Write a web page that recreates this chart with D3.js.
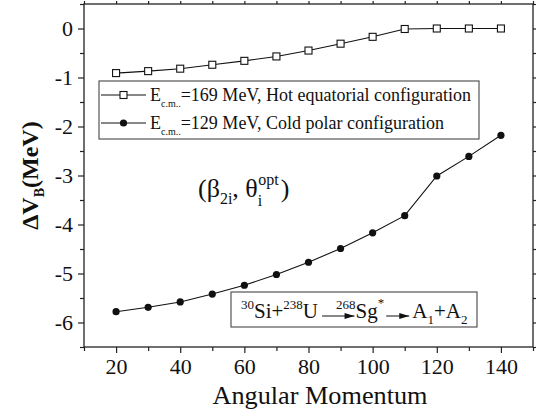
<!DOCTYPE html>
<html>
<head>
<meta charset="utf-8">
<script src="https://cdn.jsdelivr.net/npm/d3@7"></script>
</head>
<body style="margin:0">
<svg id="chart" width="540" height="415" font-family="Liberation Serif"></svg>
<script>
// Angular momentum values (x)
const angularMomentum = [20, 30, 40, 50, 60, 70, 80, 90, 100, 110, 120, 130, 140];
// Barrier modification ΔV_B (MeV), hot equatorial configuration, E_cm = 169 MeV
const hotEquatorial = [-0.91, -0.87, -0.82, -0.74, -0.66, -0.57, -0.45, -0.31, -0.17, -0.01, 0, 0, 0];
// Barrier modification ΔV_B (MeV), cold polar configuration, E_cm = 129 MeV
const coldPolar = [-5.78, -5.69, -5.58, -5.42, -5.24, -5.02, -4.77, -4.49, -4.17, -3.82, -3.01, -2.61, -2.18];

const xTickLabels = [20, 40, 60, 80, 100, 120, 140];
const yTickLabels = [0, -1, -2, -3, -4, -5, -6];

const svg = d3.select("#chart");
const plotLeft = 84, plotRight = 533, plotTop = 4, plotBottom = 347;

// serif text helper: sets the family both as attribute and inline style
function serif(sel, size) {
  return sel.attr("font-family", "Liberation Serif")
    .style("font-family", "'Liberation Serif'")
    .attr("font-size", size).style("font-size", size + "px");
}

const x = d3.scaleLinear().domain([10, 150]).range([plotLeft, plotRight]);
const y = d3.scaleLinear().domain([-6.5, 0.5]).range([plotBottom, plotTop]);

const axisColor = "#222";

// frame
svg.append("rect")
  .attr("x", plotLeft).attr("y", plotTop)
  .attr("width", plotRight - plotLeft).attr("height", plotBottom - plotTop)
  .attr("fill", "none").attr("stroke", axisColor).attr("stroke-width", 1.3);

const xMinor = d3.range(10, 151, 10);
const yMinor = d3.range(-6.5, 0.51, 0.5);

// bottom axis
const gx = svg.append("g").attr("transform", `translate(0,${plotBottom})`)
  .call(d3.axisBottom(x).tickValues(xMinor).tickSize(5)
    .tickFormat(d => xTickLabels.includes(d) ? d : ""));
gx.select(".domain").remove();
gx.attr("font-family", "Liberation Serif");
gx.selectAll(".tick line").attr("stroke", axisColor).attr("stroke-width", 1.2)
  .attr("y2", d => xTickLabels.includes(d) ? 6 : 4);
serif(gx.selectAll(".tick text"), 22)
  .attr("fill", "#111").attr("dy", "0.71em").attr("y", 11);

// top axis ticks (mirror)
const gxt = svg.append("g").attr("transform", `translate(0,${plotTop})`)
  .call(d3.axisTop(x).tickValues(xMinor).tickSize(3).tickFormat(""));
gxt.select(".domain").remove();
gxt.selectAll(".tick line").attr("stroke", axisColor).attr("stroke-width", 1.2);

// left axis
const gy = svg.append("g").attr("transform", `translate(${plotLeft},0)`)
  .call(d3.axisLeft(y).tickValues(yMinor).tickSize(5)
    .tickFormat(d => yTickLabels.includes(d) ? d : ""));
gy.select(".domain").remove();
gy.attr("font-family", "Liberation Serif");
gy.selectAll(".tick line").attr("stroke", axisColor).attr("stroke-width", 1.2)
  .attr("x2", d => yTickLabels.includes(d) ? -6 : -4);
serif(gy.selectAll(".tick text"), 22)
  .attr("fill", "#111").attr("x", -11);

// right axis ticks (mirror)
const gyr = svg.append("g").attr("transform", `translate(${plotRight},0)`)
  .call(d3.axisRight(y).tickValues(yMinor).tickSize(3).tickFormat(""));
gyr.select(".domain").remove();
gyr.selectAll(".tick line").attr("stroke", axisColor).attr("stroke-width", 1.2);

// axis titles
serif(svg.append("text"), 25)
  .attr("x", 320).attr("y", 404)
  .attr("text-anchor", "middle").attr("fill", "#111")
  .attr("textLength", 215).attr("lengthAdjust", "spacingAndGlyphs")
  .text("Angular Momentum");

const yTitle = serif(svg.append("text"), 24)
  .attr("transform", `translate(38,${(plotTop + plotBottom) / 2}) rotate(-90)`)
  .attr("text-anchor", "middle").attr("fill", "#111").attr("font-weight", "bold");
yTitle.append("tspan").text("ΔV");
yTitle.append("tspan").attr("font-size", 14).style("font-size", "14px").attr("dy", 6).text("B");
yTitle.append("tspan").attr("dy", -6).text("(MeV)");

// lines & markers
const line = d3.line().x((d, i) => x(angularMomentum[i])).y(d => y(d));

svg.append("path").datum(hotEquatorial)
  .attr("d", line).attr("fill", "none").attr("stroke", "#111").attr("stroke-width", 1.1);
svg.append("path").datum(coldPolar)
  .attr("d", line).attr("fill", "none").attr("stroke", "#111").attr("stroke-width", 1.1);

svg.append("g").selectAll("rect").data(hotEquatorial).join("rect")
  .attr("x", (d, i) => x(angularMomentum[i]) - 3.5)
  .attr("y", d => y(d) - 3.5)
  .attr("width", 7).attr("height", 7)
  .attr("fill", "#fff").attr("stroke", "#111").attr("stroke-width", 1.1);

svg.append("g").selectAll("circle").data(coldPolar).join("circle")
  .attr("cx", (d, i) => x(angularMomentum[i]))
  .attr("cy", d => y(d))
  .attr("r", 3.6).attr("fill", "#111");

// legend
const legend = svg.append("g");
legend.append("rect")
  .attr("x", 99).attr("y", 81).attr("width", 380).attr("height", 58)
  .attr("fill", "#fff").attr("stroke", "#555").attr("stroke-width", 1.2);

const legendRows = [
  { energy: "=169 MeV, Hot equatorial configuration", marker: "square", yPos: 95 },
  { energy: "=129 MeV, Cold polar configuration", marker: "circle", yPos: 123 }
];
legendRows.forEach(r => {
  legend.append("line").attr("x1", 101).attr("x2", 146)
    .attr("y1", r.yPos).attr("y2", r.yPos).attr("stroke", "#111").attr("stroke-width", 1.1);
  if (r.marker === "square") {
    legend.append("rect").attr("x", 120).attr("y", r.yPos - 3.5).attr("width", 7).attr("height", 7)
      .attr("fill", "#fff").attr("stroke", "#111").attr("stroke-width", 1.1);
  } else {
    legend.append("circle").attr("cx", 123.5).attr("cy", r.yPos).attr("r", 3.6).attr("fill", "#111");
  }
  const t = serif(legend.append("text"), 18).attr("x", 150).attr("y", r.yPos + 6).attr("fill", "#111");
  t.append("tspan").text("E");
  t.append("tspan").attr("font-size", 10).style("font-size", "10px").attr("dy", 6).text("c.m..");
  t.append("tspan").attr("dy", -6).text(r.energy);
});

// deformation annotation
const ann = serif(svg.append("text"), 26).attr("x", 198).attr("y", 197).attr("fill", "#111");
ann.append("tspan").text("(β");
ann.append("tspan").attr("font-size", 16).style("font-size", "16px").attr("dy", 7).text("2i");
ann.append("tspan").attr("dy", -7).text(", θ");
ann.append("tspan").attr("font-size", 16).style("font-size", "16px").attr("dy", 9).text("i");
ann.append("tspan").attr("font-size", 16).style("font-size", "16px").attr("dy", -21).attr("dx", -4).text("opt");
ann.append("tspan").attr("dy", 12).attr("dx", 2).text(")");

// reaction box
const rx = svg.append("g");
rx.append("rect").attr("x", 231).attr("y", 292).attr("width", 246).attr("height", 35)
  .attr("fill", "#fff").attr("stroke", "#555").attr("stroke-width", 1.2);
const rt = serif(rx.append("text"), 21).attr("x", 241).attr("y", 318).attr("fill", "#111");
const sup = (s, dy, dx) => rt.append("tspan").attr("font-size", 13).style("font-size", "13px")
  .attr("dy", dy).attr("dx", dx || 0).text(s);
sup("30", -9);
rt.append("tspan").attr("dy", 9).text("Si+");
sup("238", -9);
rt.append("tspan").attr("dy", 9).text("U");
sup("268", -9, 18);
rt.append("tspan").attr("dy", 9).text("Sg");
sup("*", -11);
rt.append("tspan").attr("dy", 11).attr("dx", 28).text("A");
sup("1", 6);
rt.append("tspan").attr("dy", -6).text("+A");
sup("2", 6);

// reaction arrows placed after the measured text runs
const defs = svg.append("defs");
defs.append("marker").attr("id", "ah").attr("viewBox", "0 0 10 6")
  .attr("refX", 10).attr("refY", 3).attr("markerWidth", 11).attr("markerHeight", 6)
  .attr("markerUnits", "userSpaceOnUse").attr("orient", "auto")
  .append("path").attr("d", "M0,0 L10,3 L0,6 Z").attr("fill", "#111");
const spans = rt.selectAll("tspan").nodes();
const endU = spans[3].getStartPositionOfChar(0).x + spans[3].getComputedTextLength();
const startSg = spans[5].getStartPositionOfChar(0).x;
const endStar = spans[6].getStartPositionOfChar(0).x + spans[6].getComputedTextLength();
const startA = spans[7].getStartPositionOfChar(0).x;
rx.append("line").attr("x1", endU + 4).attr("x2", startSg - 1).attr("y1", 316).attr("y2", 316)
  .attr("stroke", "#111").attr("stroke-width", 1).attr("marker-end", "url(#ah)");
rx.append("line").attr("x1", endStar + 2).attr("x2", startA - 3).attr("y1", 316).attr("y2", 316)
  .attr("stroke", "#111").attr("stroke-width", 1).attr("marker-end", "url(#ah)");
</script>
</body>
</html>
